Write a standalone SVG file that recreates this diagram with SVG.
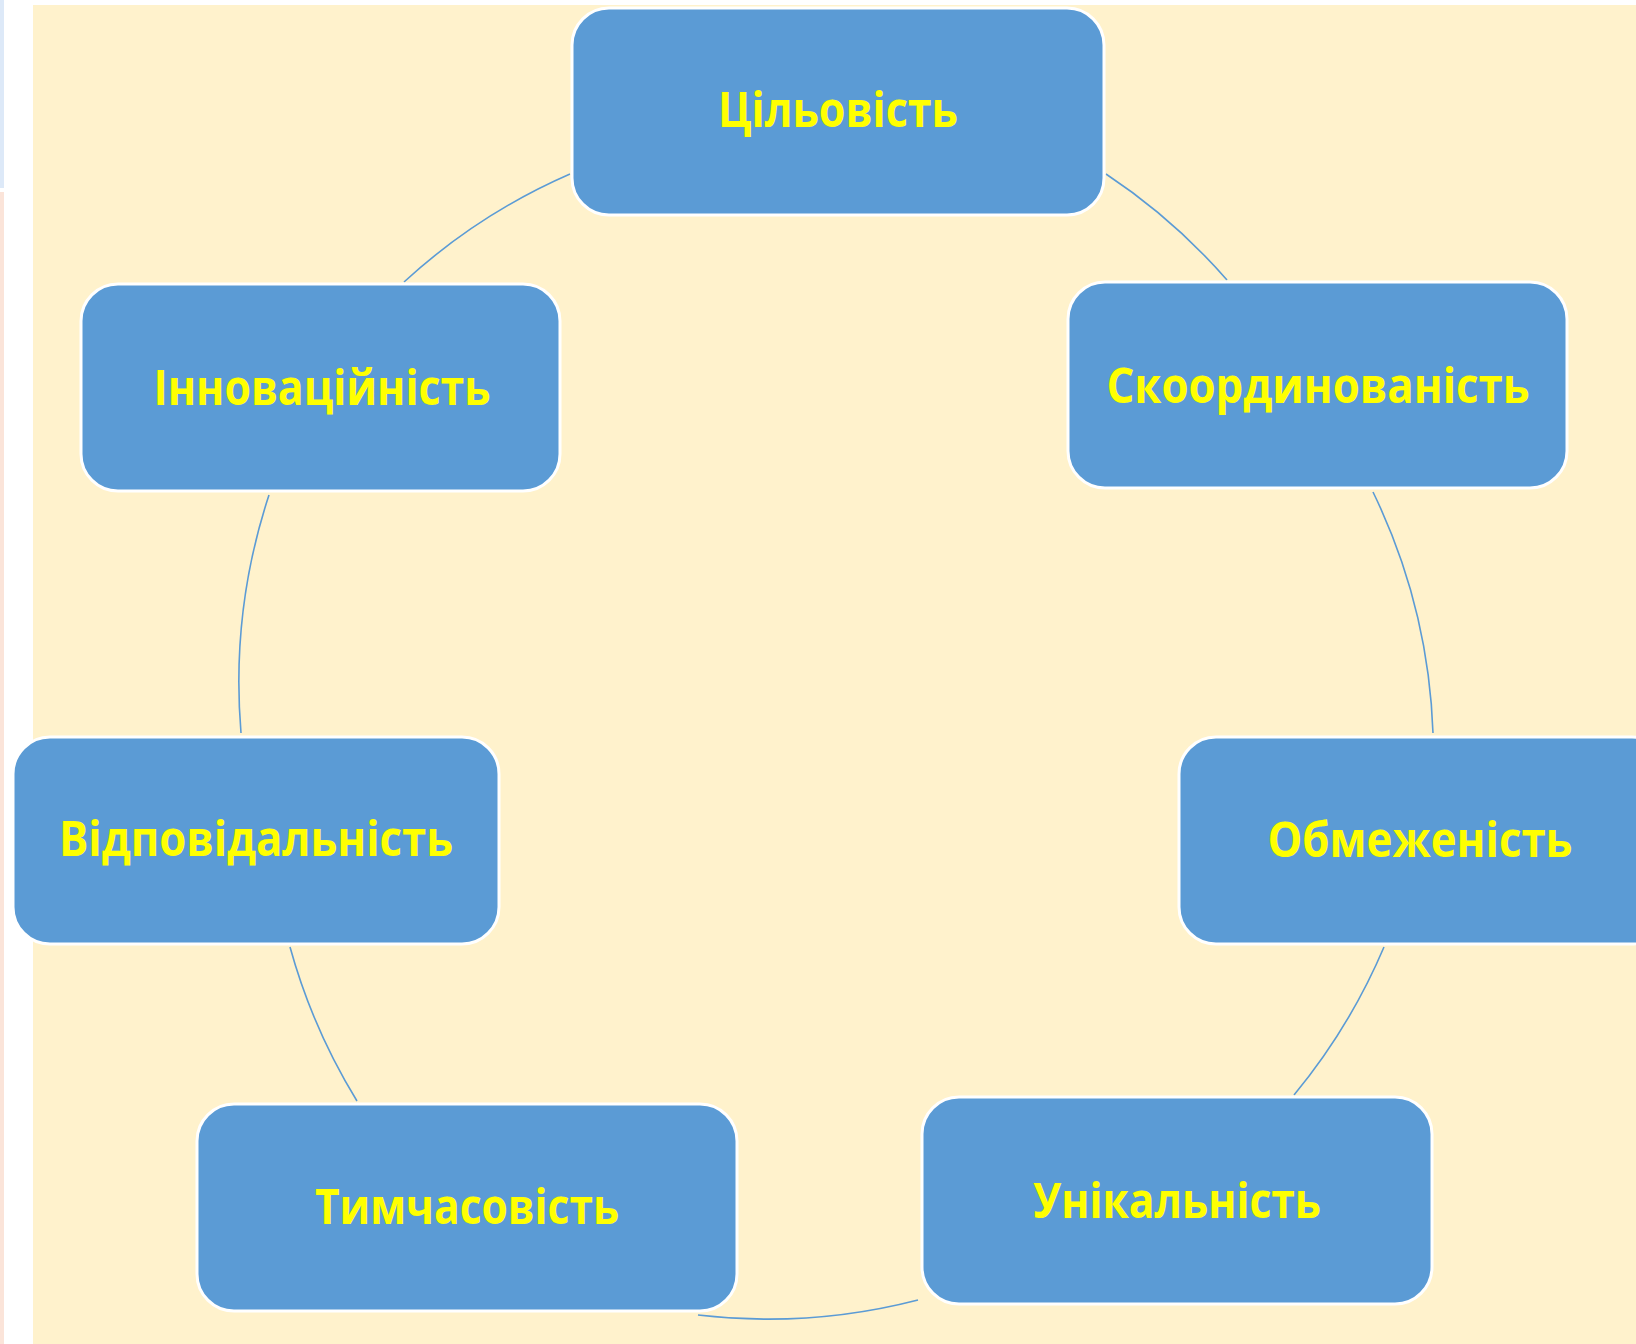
<svg xmlns="http://www.w3.org/2000/svg" width="1636" height="1344" viewBox="0 0 1636 1344">
<style>
.box{fill:#5b9bd5;stroke:#ffffff;stroke-width:3}
.lbl{font-family:"Open Sans","Noto Sans","Liberation Sans",sans-serif;font-weight:bold;font-size:49px;fill:#ffff00;text-anchor:middle}
.arc{fill:none;stroke:#5b9bd5;stroke-width:1.6}
</style>
<rect x="0" y="0" width="1636" height="1344" fill="#ffffff"/>
<rect x="0" y="0" width="4" height="188" fill="#dde9f8"/>
<rect x="0" y="192" width="4" height="1152" fill="#fbe4d9"/>
<rect x="33" y="5" width="1603" height="1339" fill="#fff2cc"/>
<g id="connectors">
<path class="arc" d="M1106,174 A600,600 0 0 1 1227,280"/>
<path class="arc" d="M1373,492 A600,600 0 0 1 1433,733"/>
<path class="arc" d="M1384,947 A600,600 0 0 1 1294,1095"/>
<path class="arc" d="M918,1300 A600,600 0 0 1 698,1315"/>
<path class="arc" d="M357,1101 A600,600 0 0 1 290,947"/>
<path class="arc" d="M241,733 A600,600 0 0 1 269,495"/>
<path class="arc" d="M404,282 A600,600 0 0 1 570,174"/>
</g>
<g id="node-tsilovist">
<rect class="box" x="572" y="8" width="532" height="207" rx="37"/>
<text class="lbl" x="838" y="127" textLength="240" lengthAdjust="spacingAndGlyphs">Цільовість</text>
</g>
<g id="node-skoordynovanist">
<rect class="box" x="1068" y="282" width="499" height="206" rx="37"/>
<text class="lbl" x="1318" y="403" textLength="423" lengthAdjust="spacingAndGlyphs">Скоординованість</text>
</g>
<g id="node-innovatsiinist">
<rect class="box" x="81" y="284" width="479" height="207" rx="37"/>
<text class="lbl" x="322" y="405" textLength="337" lengthAdjust="spacingAndGlyphs">Інноваційність</text>
</g>
<g id="node-obmezhenist">
<rect class="box" x="1179" y="737" width="490" height="207" rx="37"/>
<text class="lbl" x="1420" y="857" textLength="305" lengthAdjust="spacingAndGlyphs">Обмеженість</text>
</g>
<g id="node-vidpovidalnist">
<rect class="box" x="13" y="737" width="486" height="207" rx="37"/>
<text class="lbl" x="256" y="856" textLength="394" lengthAdjust="spacingAndGlyphs">Відповідальність</text>
</g>
<g id="node-tymchasovist">
<rect class="box" x="197" y="1104" width="540" height="207" rx="37"/>
<text class="lbl" x="467" y="1224" textLength="304" lengthAdjust="spacingAndGlyphs">Тимчасовість</text>
</g>
<g id="node-unikalnist">
<rect class="box" x="922" y="1097" width="510" height="207" rx="37"/>
<text class="lbl" x="1177" y="1218" textLength="288" lengthAdjust="spacingAndGlyphs">Унікальність</text>
</g>
</svg>
